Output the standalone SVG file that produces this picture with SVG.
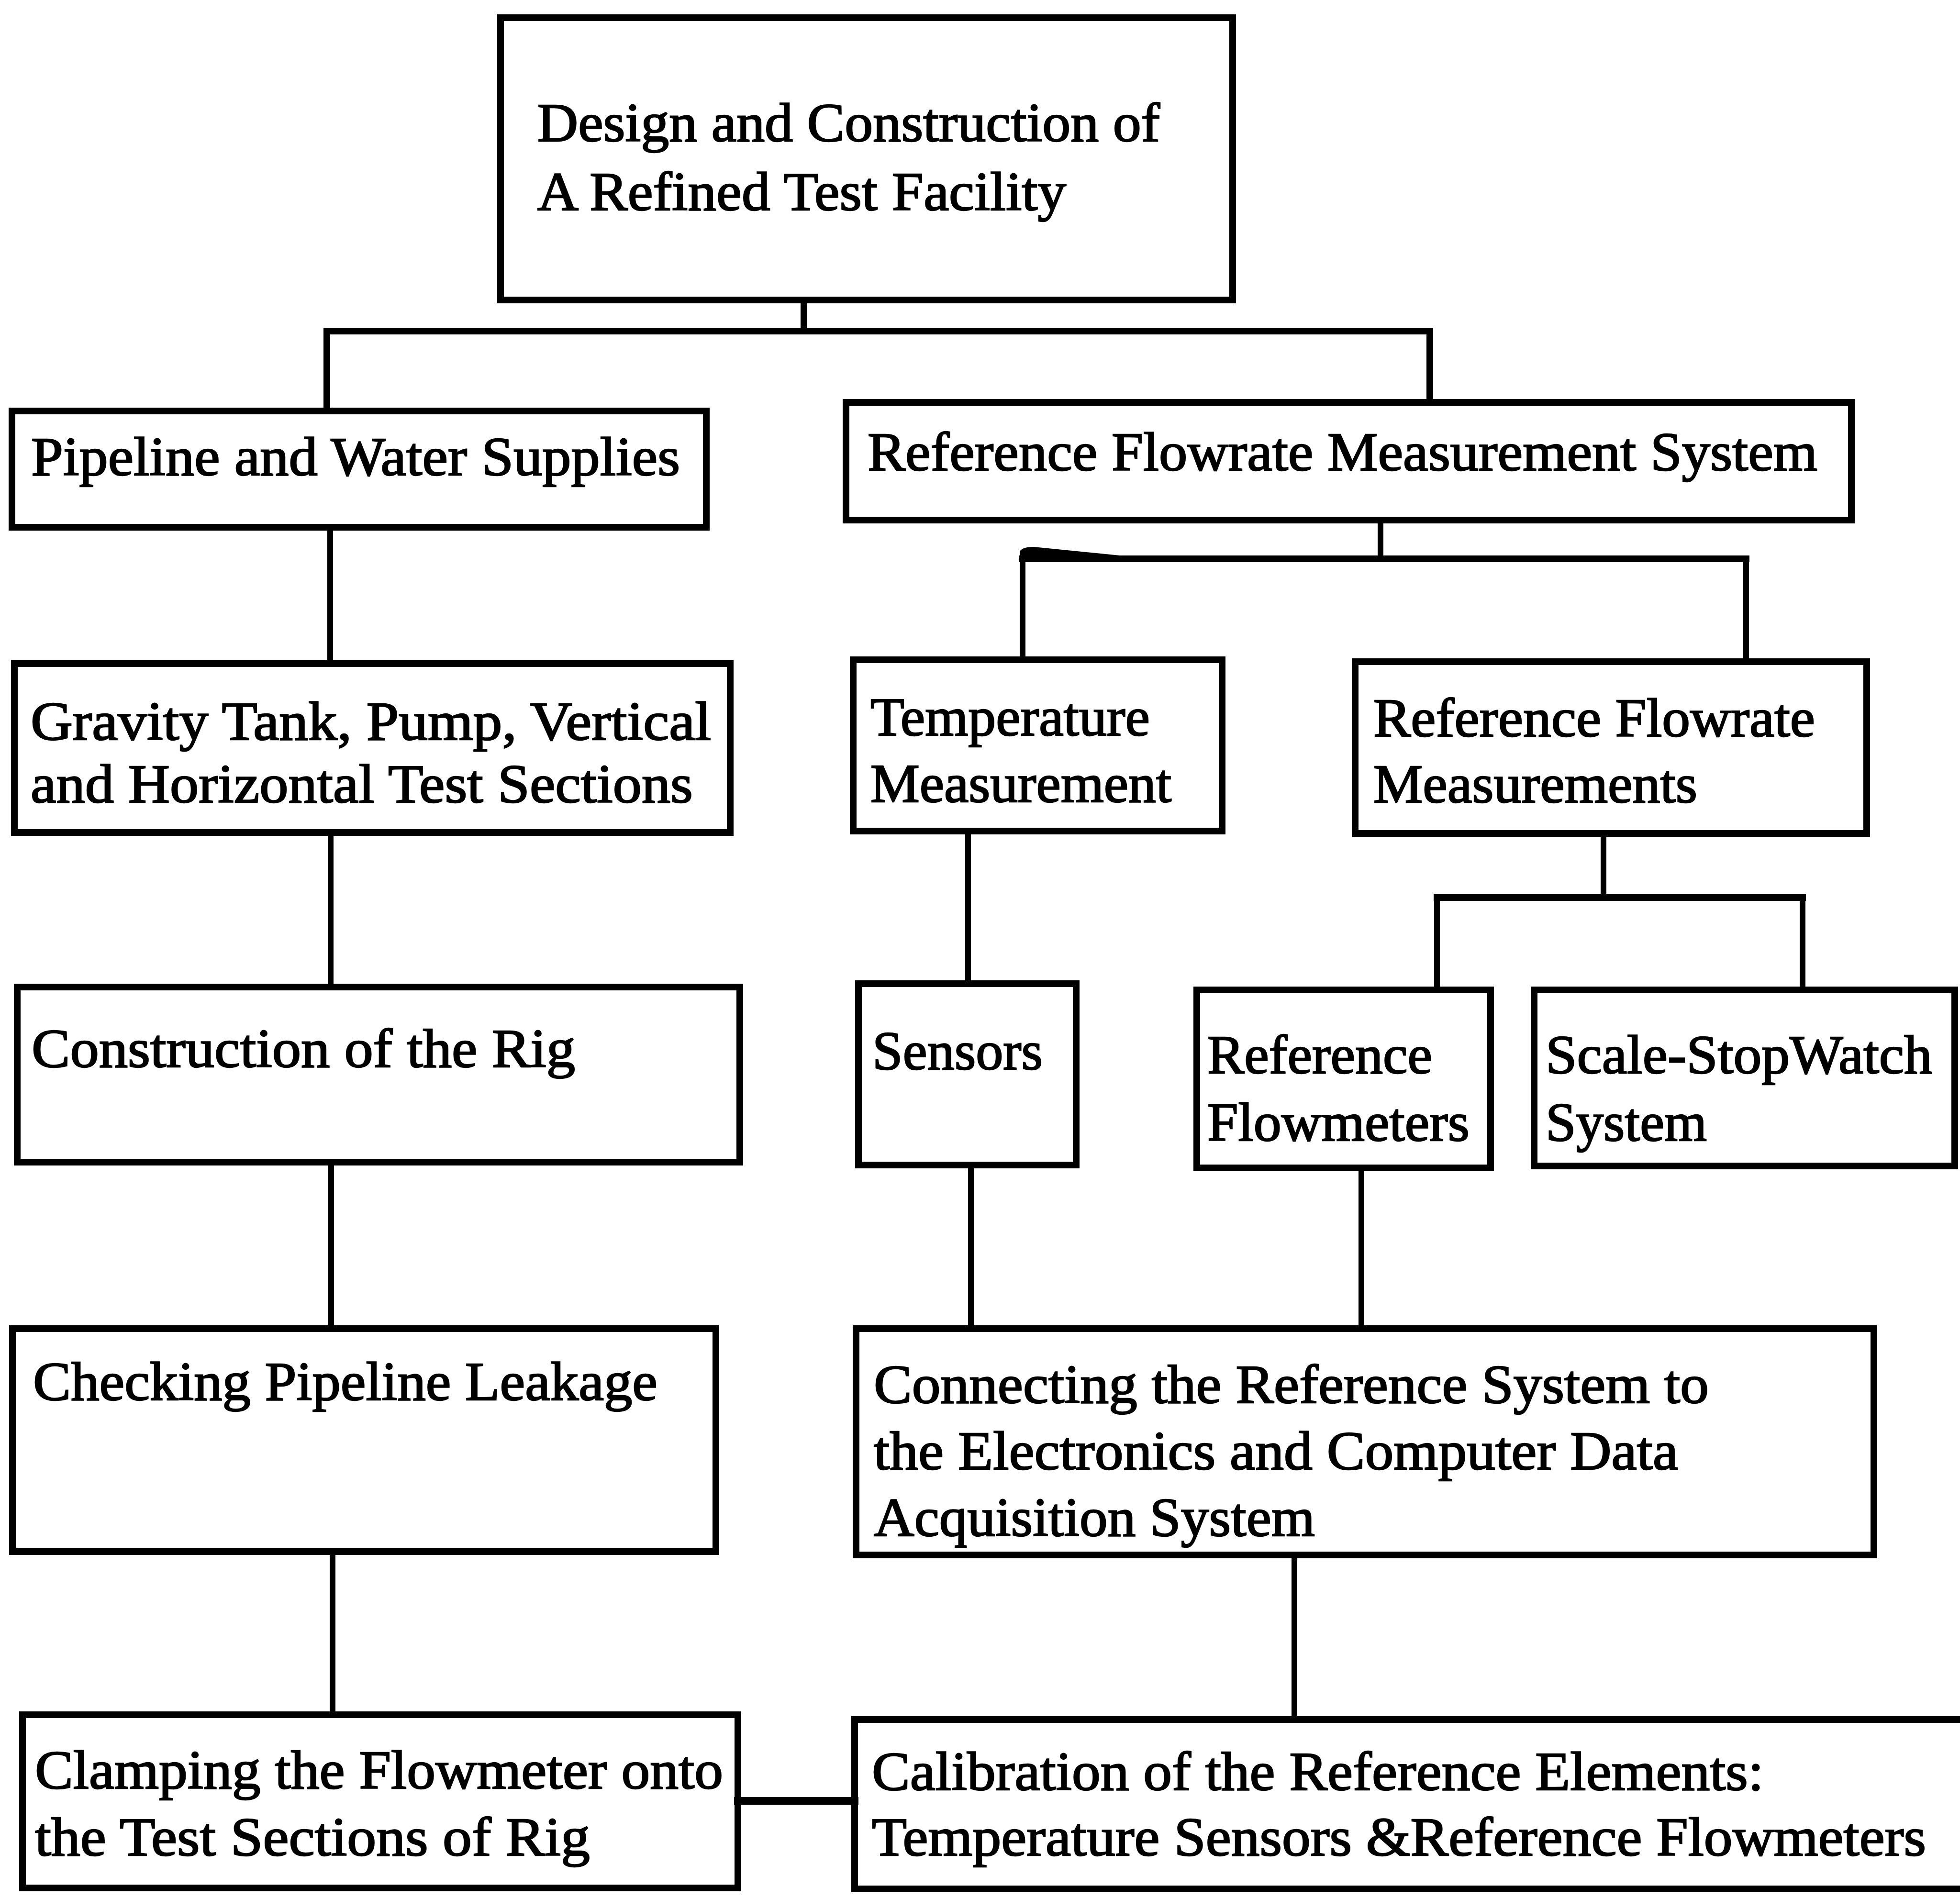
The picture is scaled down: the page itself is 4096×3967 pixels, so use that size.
<svg xmlns="http://www.w3.org/2000/svg" width="4096" height="3967" viewBox="0 0 4096 3967">
  <style>
    .box { fill: none; stroke: #000; stroke-width: 14; stroke-linejoin: miter; }
    .wire { fill: none; stroke: #000; stroke-width: 12; stroke-linecap: square; }
    .lbl { font-family: "Liberation Serif", "Times New Roman", serif; font-size: 115px; fill: #000; stroke: #000; stroke-width: 2.5; }
  </style>
  <rect width="4096" height="3967" fill="#fff"/>

  <!-- tree connectors -->
  <g id="connectors">
    <!-- root to the two main branches -->
    <path class="wire" d="M1680 627 V692 M683 692 H2988 M683 692 V859 M2988 692 V841" style="stroke-width:14"/>
    <!-- left column chain -->
    <path class="wire" d="M690 1102 V1387"/>
    <path class="wire" d="M691 1740 V2063"/>
    <path class="wire" d="M692 2429 V2777"/>
    <path class="wire" d="M695 3243 V3584"/>
    <!-- reference system split -->
    <path class="wire" d="M2885 1087 V1168"/>
    <path class="wire" d="M2137 1168 H3649" style="stroke-width:14"/>
    <!-- raised left end of the split bar -->
    <path d="M2131 1175 V1152 Q2138 1143 2160 1143 L2340 1161 V1175 Z" fill="#000"/>
    <path class="wire" d="M2137 1168 V1379 M3649 1168 V1383"/>
    <!-- temperature to sensors -->
    <path class="wire" d="M2023 1737 V2056"/>
    <!-- flowrate measurements split -->
    <path class="wire" d="M3351 1742 V1876"/>
    <path class="wire" d="M3003 1876 H3767" style="stroke-width:14"/>
    <path class="wire" d="M3003 1876 V2069 M3767 1876 V2069"/>
    <!-- into the data acquisition box -->
    <path class="wire" d="M2029 2435 V2777"/>
    <path class="wire" d="M2845 2441 V2777"/>
    <!-- down to calibration -->
    <path class="wire" d="M2705 3250 V3594"/>
    <!-- clamping to calibration -->
    <path class="wire" d="M1542 3764 H1786" style="stroke-width:16"/>
  </g>

  <g id="node-root">
    <rect class="box" x="1046" y="37" width="1530" height="590"/>
    <text class="lbl" x="1123" y="295" textLength="1301" lengthAdjust="spacingAndGlyphs">Design and Construction of</text>
    <text class="lbl" x="1123" y="439" textLength="1105" lengthAdjust="spacingAndGlyphs">A Refined Test Facility</text>
  </g>

  <g id="node-pipeline">
    <rect class="box" x="25" y="859" width="1451" height="243"/>
    <text class="lbl" x="65" y="993" textLength="1356" lengthAdjust="spacingAndGlyphs">Pipeline and Water Supplies</text>
  </g>

  <g id="node-ref-system">
    <rect class="box" x="1768" y="841" width="2101" height="246"/>
    <text class="lbl" x="1813" y="983" textLength="1985" lengthAdjust="spacingAndGlyphs">Reference Flowrate Measurement System</text>
  </g>

  <g id="node-gravity">
    <rect class="box" x="30" y="1387" width="1496" height="353"/>
    <text class="lbl" x="64" y="1546" textLength="1422" lengthAdjust="spacingAndGlyphs">Gravity Tank, Pump, Vertical</text>
    <text class="lbl" x="64" y="1677" textLength="1384" lengthAdjust="spacingAndGlyphs">and Horizontal Test Sections</text>
  </g>

  <g id="node-temperature">
    <rect class="box" x="1783" y="1379" width="771" height="358"/>
    <text class="lbl" x="1819" y="1537" textLength="584" lengthAdjust="spacingAndGlyphs">Temperature</text>
    <text class="lbl" x="1819" y="1676" textLength="629" lengthAdjust="spacingAndGlyphs">Measurement</text>
  </g>

  <g id="node-flowrate">
    <rect class="box" x="2832" y="1383" width="1069" height="359"/>
    <text class="lbl" x="2870" y="1539" textLength="923" lengthAdjust="spacingAndGlyphs">Reference Flowrate</text>
    <text class="lbl" x="2870" y="1677" textLength="677" lengthAdjust="spacingAndGlyphs">Measurements</text>
  </g>

  <g id="node-construction">
    <rect class="box" x="36" y="2063" width="1510" height="366"/>
    <text class="lbl" x="66" y="2230" textLength="1136" lengthAdjust="spacingAndGlyphs">Construction of the Rig</text>
  </g>

  <g id="node-sensors">
    <rect class="box" x="1794" y="2056" width="455" height="379"/>
    <text class="lbl" x="1823" y="2235" textLength="356" lengthAdjust="spacingAndGlyphs">Sensors</text>
  </g>

  <g id="node-ref-flowmeters">
    <rect class="box" x="2501" y="2069" width="614" height="372"/>
    <text class="lbl" x="2523" y="2243" textLength="470" lengthAdjust="spacingAndGlyphs">Reference</text>
    <text class="lbl" x="2523" y="2384" textLength="548" lengthAdjust="spacingAndGlyphs">Flowmeters</text>
  </g>

  <g id="node-scale">
    <rect class="box" x="3206" y="2069" width="879" height="368"/>
    <text class="lbl" x="3230" y="2243" textLength="808" lengthAdjust="spacingAndGlyphs">Scale-StopWatch</text>
    <text class="lbl" x="3230" y="2384" textLength="337" lengthAdjust="spacingAndGlyphs">System</text>
  </g>

  <g id="node-leakage">
    <rect class="box" x="26" y="2777" width="1470" height="466"/>
    <text class="lbl" x="69" y="2926" textLength="1305" lengthAdjust="spacingAndGlyphs">Checking Pipeline Leakage</text>
  </g>

  <g id="node-acquisition">
    <rect class="box" x="1789" y="2777" width="2127" height="473"/>
    <text class="lbl" x="1826" y="2932" textLength="1745" lengthAdjust="spacingAndGlyphs">Connecting the Reference System to</text>
    <text class="lbl" x="1826" y="3071" textLength="1681" lengthAdjust="spacingAndGlyphs">the Electronics and Computer Data</text>
    <text class="lbl" x="1826" y="3210" textLength="922" lengthAdjust="spacingAndGlyphs">Acquisition System</text>
  </g>

  <g id="node-clamping">
    <rect class="box" x="47" y="3584" width="1495" height="362"/>
    <text class="lbl" x="73" y="3738" textLength="1438" lengthAdjust="spacingAndGlyphs">Clamping the Flowmeter onto</text>
    <text class="lbl" x="73" y="3878" textLength="1160" lengthAdjust="spacingAndGlyphs">the Test Sections of Rig</text>
  </g>

  <g id="node-calibration">
    <rect class="box" x="1786" y="3594" width="2330" height="354"/>
    <text class="lbl" x="1822" y="3741" textLength="1864" lengthAdjust="spacingAndGlyphs">Calibration of the Reference Elements:</text>
    <text class="lbl" x="1822" y="3878" textLength="2203" lengthAdjust="spacingAndGlyphs">Temperature Sensors &amp;Reference Flowmeters</text>
  </g>
</svg>
